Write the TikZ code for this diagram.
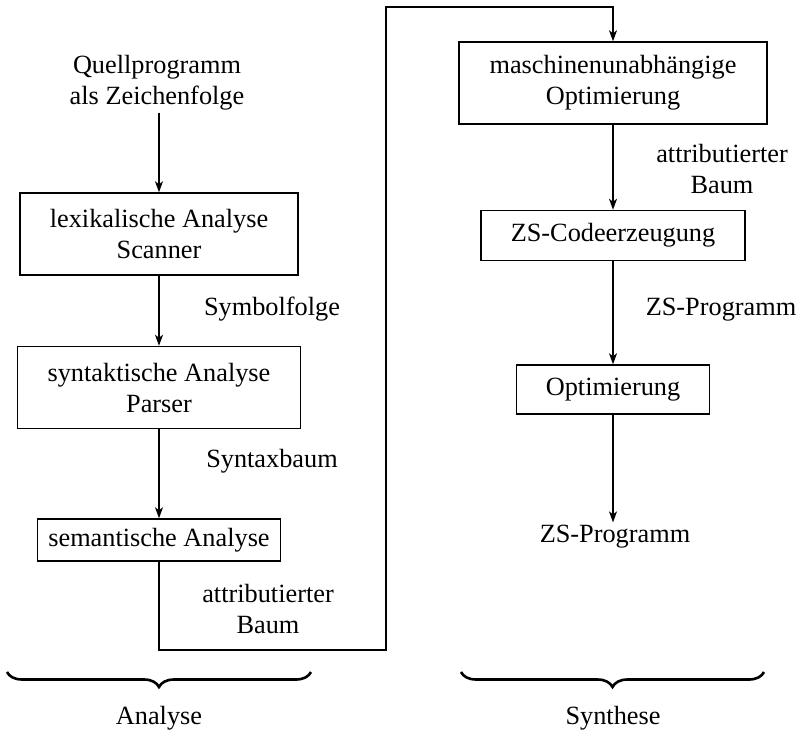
\documentclass[tikz,border=0pt]{standalone}
\usepackage{fontspec}
\setmainfont{Liberation Serif}
\usetikzlibrary{arrows.meta,positioning,decorations.pathreplacing}

\begin{document}
\begin{tikzpicture}[
  x=1pt, y=-1pt,
  every node/.style={font=\fontsize{26.3}{31}\selectfont},
  box/.style={draw, line width=1.5pt, align=center, inner sep=0pt},
  lbl/.style={align=center, inner sep=2pt},
  flow/.style={-{Stealth[length=11pt, width=8pt, inset=3pt]}, line width=1.5pt},
  klammer/.style={decorate, decoration={brace, mirror, amplitude=15pt}, line width=2.6pt}
]
\useasboundingbox (0,0) rectangle (805,731);

% Analyse
\node[lbl] (quelle) at (157,83) {Quellprogramm\\als Zeichenfolge};
\node[box, minimum width=278pt, minimum height=82pt] (lex) at (159,234) {lexikalische Analyse\\Scanner};
\node[box, minimum width=283pt, minimum height=82pt, below=70pt of lex] (syn) {syntaktische Analyse\\Parser};
\node[box, minimum width=243pt, minimum height=42pt, below=89pt of syn] (sem) {semantische Analyse};

\node[lbl, anchor=base] (lblsym) at (272,315) {Symbolfolge};
\node[lbl, anchor=base] (lblsyn) at (272,467) {Syntaxbaum};
\node[lbl] (lblattra) at (268,609) {attributierter\\Baum};

% Synthese
\node[box, minimum width=308pt, minimum height=82pt] (mopt) at (613,83) {maschinenunabhängige\\Optimierung};
\node[box, minimum width=264pt, minimum height=50pt, below=85pt of mopt] (code) {ZS-Codeerzeugung};
\node[box, minimum width=193pt, minimum height=49pt, below=103pt of code] (opt) {Optimierung};
\node[lbl, anchor=base] (ziel) at (615,542) {ZS-Programm};

\node[lbl] (lblattrb) at (722,169) {attributierter\\Baum};
\node[lbl, anchor=base] (lblzs) at (721,315) {ZS-Programm};

% Klammern
\coordinate (kla) at (7,672);
\coordinate (klb) at (311,672);
\coordinate (klc) at (461,672);
\coordinate (kld) at (764,672);
\draw[klammer] (kla) -- (klb);
\draw[klammer] (klc) -- (kld);
\node[lbl, anchor=base] (analyse) at (159,724) {Analyse};
\node[lbl, anchor=base] (synthese) at (613,724) {Synthese};

% Pfeile
\coordinate (knicka) at (386,650);
\coordinate (knickb) at (386,7);
\draw[flow] (lex.north |- quelle.south) -- (lex.north);
\draw[flow] (lex) -- (syn);
\draw[flow] (syn) -- (sem);
\draw[flow] (sem.south) |- (knicka) -- (knickb) -| (mopt.north);
\draw[flow] (mopt) -- (code);
\draw[flow] (code) -- (opt);
\draw[flow] (opt.south) -- (opt.south |- ziel.north);
\end{tikzpicture}
\end{document}
